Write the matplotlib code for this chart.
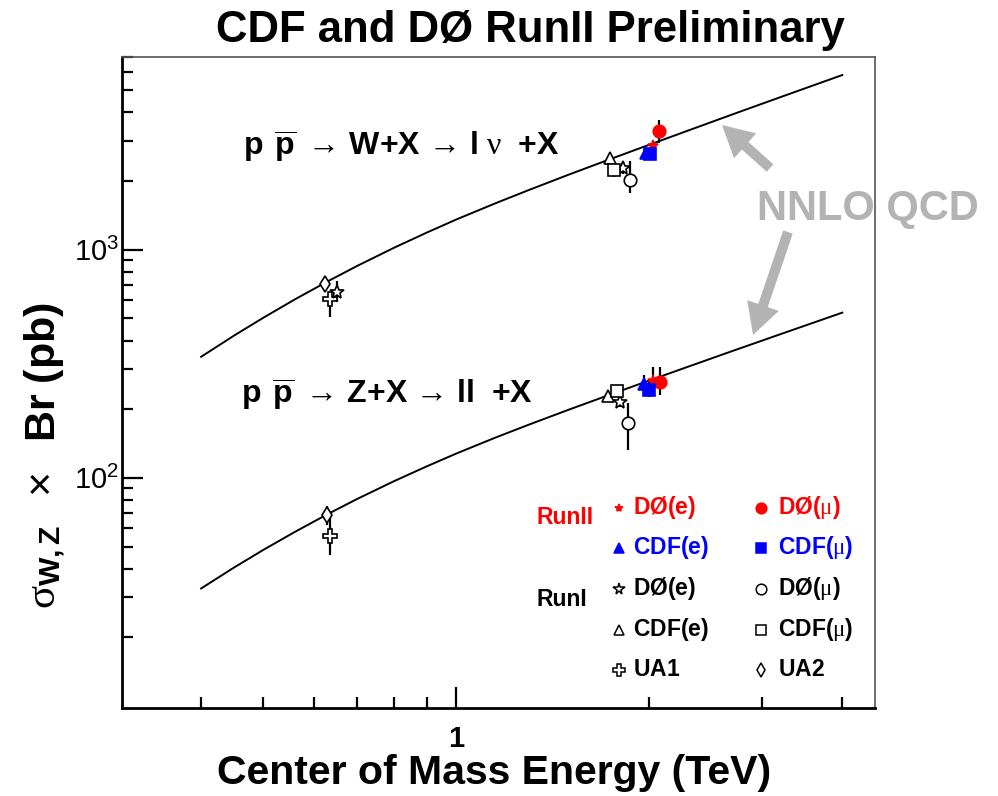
import matplotlib
matplotlib.use("Agg")
import matplotlib.pyplot as plt
from matplotlib.ticker import NullFormatter

plt.rcParams['font.family'] = ['Liberation Sans', 'DejaVu Sans']
plt.rcParams['mathtext.fontset'] = 'custom'
plt.rcParams['mathtext.rm'] = 'Liberation Sans'
plt.rcParams['mathtext.it'] = 'Liberation Serif'
plt.rcParams['mathtext.bf'] = 'Liberation Sans:bold'

# NNLO QCD prediction (TeV, pb)
nnlo_E = [0.4, 0.45, 0.5, 0.56, 0.63, 0.7, 0.8, 0.9, 1.0, 1.15, 1.3,
          1.5, 1.7, 1.96, 2.3, 2.7, 3.2, 3.6, 4.0]
nnlo_W = [339.5, 420.1, 503.3, 605.8, 726.6, 848.5, 1021, 1190, 1357, 1597,
          1831, 2138, 2439, 2827, 3332, 3926, 4662, 5248, 5834]
nnlo_Z = [32.75, 40.42, 48.31, 57.94, 69.33, 80.72, 96.76, 112.4, 127.8,
          150.0, 171.4, 199.3, 226.6, 261.7, 307.2, 360.4, 426.0, 478.1, 530.0]

# measurements, one entry per experiment (order matches `series`)
series = ['D0e_II', 'D0mu_II', 'CDFe_II', 'CDFmu_II',
          'D0e_I', 'D0mu_I', 'CDFe_I', 'CDFmu_I', 'UA1', 'UA2']

w_E = [2.03, 2.07, 1.975, 2.005, 1.82, 1.865, 1.74, 1.76, 0.636, 0.624]
w_sig = [2840, 3300, 2650, 2640, 2280, 2030, 2520, 2240, 608, 710]
w_lo = [2650, 2950, 2520, 2500, 2150, 1775, 2420, 2080, 508, 680]
w_hi = [3000, 3700, 2780, 2780, 2450, 2440, 2620, 2400, 650, 740]

z_E = [2.03, 2.08, 1.96, 2.0, 1.80, 1.856, 1.727, 1.78, 0.636, 0.628]
z_sig = [266, 264, 258, 243, 216, 174, 228, 240, 55.7, 68.8]
z_lo = [235, 231, 240, 227, 205, 133, 218, 230, 46, 62]
z_hi = [307, 307, 282, 264, 228, 213, 238, 250, 70, 75]

# extra low-energy W point drawn with an open star
w_extra_E = [0.651]
w_extra_sig = [656]
w_extra_lo = [593]
w_extra_hi = [726]

legend_text = [r'$\mathbf{DØ(e)}$', r'$\mathbf{DØ(}\mu\mathbf{)}$',
               r'$\mathbf{CDF(e)}$', r'$\mathbf{CDF(}\mu\mathbf{)}$',
               r'$\mathbf{DØ(e)}$', r'$\mathbf{DØ(}\mu\mathbf{)}$',
               r'$\mathbf{CDF(e)}$', r'$\mathbf{CDF(}\mu\mathbf{)}$',
               r'$\mathbf{UA1}$', r'$\mathbf{UA2}$']

RED, BLUE = '#ff0000', '#0000ff'
# marker, face, edge, size
style = {
    'D0e_II': ('*', RED, RED, 8),
    'D0mu_II': ('o', RED, RED, 9),
    'CDFe_II': ('^', BLUE, BLUE, 9),
    'CDFmu_II': ('s', BLUE, BLUE, 8),
    'D0e_I': ('*', 'white', 'k', 10),
    'D0mu_I': ('o', 'white', 'k', 9),
    'CDFe_I': ('^', 'white', 'k', 9),
    'CDFmu_I': ('s', 'white', 'k', 8.5),
    'UA1': ('P', 'white', 'k', 10),
    'UA2': ('d', 'white', 'k', 8),
}
text_col = [RED, RED, BLUE, BLUE, 'k', 'k', 'k', 'k', 'k', 'k']

fig = plt.figure(figsize=(9.98, 7.96), dpi=100)
ax = fig.add_axes([0.1222, 0.1106, 0.7546, 0.8178])
ax.set_xscale('log')
ax.set_yscale('log')

ax.plot(nnlo_E, nnlo_W, color='k', lw=1.4, zorder=2)
ax.plot(nnlo_E, nnlo_Z, color='k', lw=1.4, zorder=2)


def draw_points(E, sig, lo, hi, key):
    m, fc, ec, ms = style[key]
    ax.errorbar(E, sig, yerr=[[sig - lo], [hi - sig]], fmt='none',
                ecolor='k', elinewidth=1.6, capsize=0, zorder=3)
    ax.plot(E, sig, ls='none', marker=m, mfc=fc, mec=ec, ms=ms,
            mew=1.2, zorder=4)


for i, key in enumerate(series):
    draw_points(w_E[i], w_sig[i], w_lo[i], w_hi[i], key)
    draw_points(z_E[i], z_sig[i], z_lo[i], z_hi[i], key)
draw_points(w_extra_E[0], w_extra_sig[0], w_extra_lo[0], w_extra_hi[0], 'D0e_I')

ax.set_xlim(0.301, 4.5)
ax.set_ylim(9.8, 7000)

ax.set_xticks([1])
ax.set_xticklabels(['1'], fontweight='bold')
ax.set_xticks([0.4, 0.5, 0.6, 0.7, 0.8, 0.9, 2, 3, 4], minor=True)
ax.xaxis.set_minor_formatter(NullFormatter())
ax.set_yticks([100, 1000])
ax.set_yticklabels([r'$\mathregular{10^{2}}$', r'$\mathregular{10^{3}}$'])
ax.set_yticks([20, 30, 40, 50, 60, 70, 80, 90,
               200, 300, 400, 500, 600, 700, 800, 900,
               2000, 3000, 4000, 5000, 6000, 7000], minor=True)
ax.yaxis.set_minor_formatter(NullFormatter())

ax.tick_params(which='both', direction='in', top=False, right=False,
               width=1.6, labelsize=21)
ax.tick_params(which='major', length=15)
ax.tick_params(which='minor', length=8)
ax.tick_params(axis='x', pad=12)
ax.tick_params(axis='y', pad=2)

for s in ['left', 'bottom']:
    ax.spines[s].set_linewidth(2.0)
for s in ['top', 'right']:
    ax.spines[s].set_linewidth(1.2)
    ax.spines[s].set_color('#555555')

# process labels
ax.text(0.1607, 0.862,
        r'$\mathbf{p}\ \,\overline{\mathbf{p}}\ \rightarrow\,\mathbf{W{+}X}\,\rightarrow\,\mathbf{l}\ \nu\ \ \mathbf{{+}X}$',
        transform=ax.transAxes, fontsize=23, va='center', ha='left')
ax.text(0.1585, 0.481,
        r'$\mathbf{p}\ \,\overline{\mathbf{p}}\ \rightarrow\,\mathbf{Z{+}X}\,\rightarrow\,\mathbf{ll}\ \ \mathbf{{+}X}$',
        transform=ax.transAxes, fontsize=23, va='center', ha='left')

# legend block
row_y = [0.3072, 0.2458, 0.1828, 0.1198, 0.0584]
col_mx = [0.660, 0.8486]
col_tx = [0.679, 0.871]
for i, key in enumerate(series):
    r, c = i // 2, i % 2
    m, fc, ec, ms = style[key]
    if key == 'D0e_II':
        ms = 7
    ax.plot([col_mx[c]], [row_y[r]], transform=ax.transAxes, ls='none',
            marker=m, mfc=fc, mec=ec, ms=ms * 0.85, mew=1.1, clip_on=False)
    ax.text(col_tx[c], row_y[r], legend_text[i], color=text_col[i],
            transform=ax.transAxes, fontsize=16.5, va='center', ha='left')
ax.text(0.551, 0.292, 'RunII', color=RED, fontweight='bold', fontsize=16.5,
        transform=ax.transAxes, va='center', ha='left')
ax.text(0.551, 0.166, 'RunI', color='k', fontweight='bold', fontsize=16.5,
        transform=ax.transAxes, va='center', ha='left')

# NNLO QCD annotation with arrows
GREY = '#b3b3b3'
fig.text(0.7585, 0.737, 'NNLO QCD', color=GREY, fontsize=30,
         fontweight='bold', va='center', ha='left')
for tail, head in [((770, 628), (722, 671)), ((788, 564), (753, 461))]:
    ax.annotate('', xy=head, xytext=tail, xycoords='figure pixels',
                textcoords='figure pixels',
                arrowprops=dict(arrowstyle='simple,head_length=1.4,head_width=1.5,tail_width=0.45',
                                mutation_scale=16, color=GREY, lw=0,
                                shrinkA=0, shrinkB=0))

fig.text(0.532, 0.962, 'CDF and DØ RunII Preliminary', fontsize=31.5,
         fontweight='bold', ha='center', va='center')
fig.text(0.495, 0.029, 'Center of Mass Energy (TeV)', fontsize=29.5,
         fontweight='bold', ha='center', va='center')
fig.text(0.045, 0.428, r'$\sigma_{\mathbf{W,Z}}\ \ \times\ \ \mathbf{Br\ (pb)}$',
         fontsize=31, rotation=90, ha='center', va='center')

fig.savefig('out.png', dpi=100)
